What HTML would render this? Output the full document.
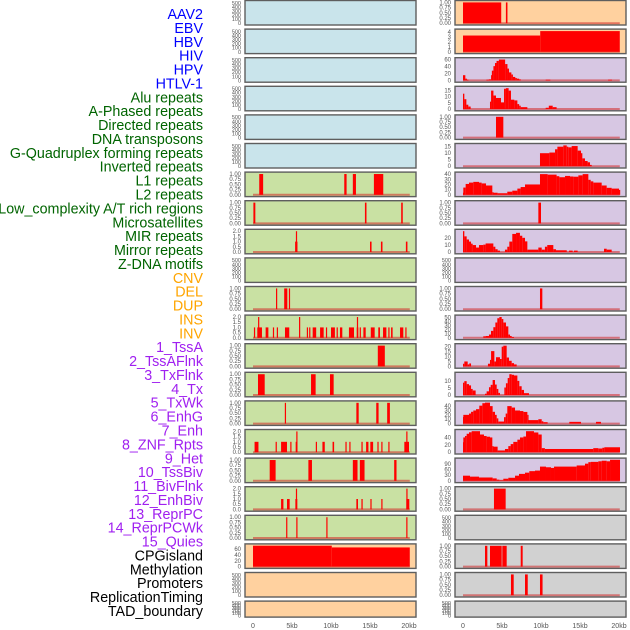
<!DOCTYPE html>
<html><head><meta charset="utf-8"><style>
html,body{margin:0;padding:0;background:#fff;}
svg{display:block;font-family:"Liberation Sans",sans-serif;}
</style></head><body>
<svg id="chart" width="630" height="630" viewBox="0 0 630 630"></svg>
<script>
const trackLabels=["AAV2","EBV","HBV","HIV","HPV","HTLV-1","Alu repeats","A-Phased repeats","Directed repeats","DNA transposons","G-Quadruplex forming repeats","Inverted repeats","L1 repeats","L2 repeats","Low_complexity A/T rich regions","Microsatellites","MIR repeats","Mirror repeats","Z-DNA motifs","CNV","DEL","DUP","INS","INV","1_TssA","2_TssAFlnk","3_TxFlnk","4_Tx","5_TxWk","6_EnhG","7_Enh","8_ZNF_Rpts","9_Het","10_TssBiv","11_BivFlnk","12_EnhBiv","13_ReprPC","14_ReprPCWk","15_Quies","CPGisland","Methylation","Promoters","ReplicationTiming","TAD_boundary"];
const labelColors=["#0000ff","#006400","#ffa500","#a020f0","#000000"];
const labelGroups=[6,13,5,15,5];
const xTicks=[0,5,10,15,20];
const xTickLabels=["0","5kb","10kb","15kb","20kb"];
const ticks500=[0,100,200,300,400,500];
const ticks1=[0,0.25,0.5,0.75,1];
const ticks2=[0,0.5,1,1.5,2];
const aav2R=[[0,4.9,1],[5.5,5.7,1]];
const ebvR=[[0,9.9,3.3],[9.9,20.1,4.2]];
const hivR=[[0,0.3,15],[0.3,0.5,5],[0.5,0.7,2],[3.0,3.3,2],[3.3,3.6,3],[3.6,3.7,15],[3.7,3.9,28],[3.9,4.1,41],[4.1,4.3,50],[4.3,4.6,56],[4.6,5.4,60],[5.4,5.7,47],[5.7,5.9,34],[5.9,6.2,23],[6.2,6.4,17],[6.4,6.7,10],[6.7,6.9,7],[6.9,7.2,5],[7.2,7.4,3],[10.6,11.2,2],[18.6,19.1,2]];
const hpvR=[[0,0.17,12.5],[0.17,0.43,8],[0.43,0.68,3.5],[0.68,0.98,2],[3.46,3.6,6],[3.6,3.9,15],[3.9,4.23,11],[4.23,4.87,9],[4.87,5.26,5.4],[5.26,5.5,16.5],[5.5,5.85,17],[5.85,6.15,15],[6.15,6.58,7.6],[6.58,6.97,7],[6.97,7.2,4],[7.2,7.4,2.7],[7.4,8.25,1.5],[10.6,11.0,1],[11.0,11.5,2.7],[11.5,12.0,1.5]];
const directedR=[[4.23,5.17,1]];
const dnaTransR=[[9.87,11.07,10],[11.07,11.8,10.5],[11.8,12.1,13],[12.1,12.86,15],[12.86,13.3,16],[13.3,13.5,15],[13.5,13.93,14.5],[13.93,14.7,15.5],[14.7,15.13,12],[15.13,15.3,10],[15.3,15.64,6],[15.64,15.98,4],[15.98,16.28,3],[16.28,16.5,1]];
const invertedR=[[0,0.04,4],[0.04,0.34,14],[0.34,0.77,21],[0.77,1.32,23.6],[1.32,2.05,25],[2.05,2.39,23.6],[2.39,2.95,22],[2.95,3.76,18],[3.76,3.89,5],[3.89,4.44,4],[4.44,5.68,3],[5.68,6.32,6],[6.32,6.97,8],[6.97,7.39,12],[7.39,7.95,15],[7.95,9.87,20],[9.87,10.85,40],[10.85,12.0,39],[12.0,12.35,36],[12.35,13.08,34],[13.08,13.72,36.5],[13.72,14.15,35.4],[14.15,14.79,35],[14.79,15.34,37.6],[15.34,16.07,40],[16.07,16.37,29],[16.37,16.71,26],[16.71,17.78,23.6],[17.78,18.42,18],[18.42,19.06,13.5],[19.06,20.0,12],[20.0,20.1,9.5]];
const l1L=[[0.8,1.3,1],[11.7,12.0,1],[12.8,13.2,1],[15.5,16.7,1]];
const lowCompL=[[0.05,0.3,1],[14.35,14.55,1],[19.0,19.2,1]];
const lowCompR=[[9.66,10.0,1]];
const msatL=[[5.4,5.7,1],[5.5,5.65,2],[15.0,15.2,1],[16.4,16.6,1],[19.6,19.8,1]];
const mirR=[[0,0.17,30],[0.17,0.47,22.5],[0.47,0.77,18],[0.77,1.03,15],[1.03,1.24,12],[1.24,1.67,10],[1.67,2.05,6.4],[2.05,2.6,10],[2.6,2.9,10.6],[2.9,3.89,12.3],[3.89,4.15,7.6],[4.15,4.44,4],[4.44,4.74,2],[5.38,5.68,3.4],[5.68,5.94,7.6],[5.94,6.32,15],[6.32,6.8,26],[6.8,7.3,27.6],[7.3,7.6,23.4],[7.6,7.95,20.4],[7.95,8.25,15.3],[8.25,9.66,3.4],[9.66,10.09,6.4],[10.09,10.5,3.4],[10.5,10.8,7.6],[10.8,11.58,10],[11.58,11.92,4],[11.92,13.3,2.5],[13.6,14.06,2],[14.23,14.7,2],[18.08,18.42,4.7],[18.42,19.06,3.4]];
const cnvL=[[2.95,3.1,1],[4.0,4.4,1],[4.6,4.75,1]];
const cnvR=[[9.87,10.17,1]];
const delL=[[0.12,0.22,1],[0.55,1.15,1],[0.65,0.75,2],[1.62,1.97,1],[2.55,2.65,1],[3.05,3.15,1],[4.1,4.65,1],[5.9,6.0,2],[6.9,7.0,1],[7.2,7.3,1],[7.65,8.1,1],[8.6,9.06,1],[9.35,9.45,1],[10.0,10.5,1],[10.72,10.82,1],[11.15,11.45,1],[12.3,12.95,1],[13.3,13.5,1],[13.32,13.42,2],[13.68,13.76,1],[14.15,14.45,1],[15.1,15.6,1],[16.06,16.28,1],[16.67,17.1,1],[17.35,17.45,1],[17.7,17.9,1],[18.85,19.27,1],[19.53,19.63,1]];
const delR=[[2.6,2.9,3.7],[2.9,3.33,4.4],[3.33,3.59,8],[3.59,3.89,17],[3.89,4.15,26],[4.15,4.4,37.5],[4.4,4.66,48],[4.66,4.96,51],[4.96,5.17,46],[5.17,5.51,37.5],[5.51,5.81,28],[5.81,6.03,8],[6.03,6.24,4.4],[6.24,6.54,2]];
const tssaL=[[16.0,16.9,1]];
const tssaR=[[0,0.17,2.7],[0.17,0.6,5],[0.6,0.8,2],[0.8,1.03,3],[3.2,3.46,2.7],[3.46,3.6,6.6],[3.6,4.02,15.5],[4.02,4.23,5],[4.23,4.74,9.3],[4.74,4.96,7.5],[4.96,5.17,20],[5.17,5.6,21],[5.6,5.9,9],[5.9,6.24,5.7],[6.24,6.54,3.3],[6.54,6.88,2]];
const tssafL=[[0.64,1.5,1],[7.44,8.03,1],[9.87,10.34,1]];
const tssafR=[[0,0.17,8.7],[0.17,0.47,9.8],[0.47,0.77,7.7],[0.77,1.03,6.8],[1.03,1.24,4.3],[1.24,1.62,3.2],[2.82,3.03,0.9],[3.03,3.33,2.6],[3.33,3.55,5.5],[3.55,3.8,7.2],[3.8,4.1,10.6],[4.1,4.32,7.4],[4.32,4.53,4.3],[4.53,4.74,1.5],[5.3,5.5,5.3],[5.5,5.73,8.3],[5.73,5.94,12],[5.94,6.24,14.7],[6.24,6.54,14.3],[6.54,6.97,13.8],[6.97,7.22,10],[7.22,7.52,6.2],[7.52,7.82,3.6],[7.82,8.46,1.3]];
const txflnkL=[[4.08,4.23,1],[13.25,13.55,1],[15.8,16.1,1],[17.2,17.55,1]];
const txflnkR=[[0,0.04,15],[0.04,0.77,20],[0.77,1.03,23],[1.03,1.32,27],[1.32,1.67,30],[1.67,2.09,33],[2.09,2.48,41],[2.48,2.82,46.7],[2.82,3.46,48],[3.46,3.8,40],[3.8,4.1,27],[4.1,4.32,20],[4.32,4.53,12],[4.53,5.26,4.7],[5.26,5.47,14.7],[5.47,5.68,23],[5.68,6.24,40],[6.24,6.67,36.7],[6.67,7.31,30],[7.31,7.74,28.7],[7.74,8.25,26.7],[8.25,8.38,20],[8.38,9.66,8],[9.66,10.09,10],[10.09,10.3,5.3],[10.3,10.85,3.3],[13.63,15.13,4],[17.05,17.69,4]];
const txL=[[0.2,0.7,1],[2.9,3.0,1],[3.6,4.36,1],[4.78,4.88,1],[5.47,5.68,1],[5.55,5.65,2],[8.05,8.15,1],[8.9,9.2,1],[10.2,10.4,1],[11.85,11.95,1],[12.35,12.45,1],[13.9,14.06,1],[14.5,14.8,1],[15.04,15.4,1],[15.95,16.05,1],[16.45,16.55,1],[17.35,17.45,1],[19.4,20.0,1],[19.65,19.75,2]];
const txR=[[0,0.04,27],[0.04,0.26,40],[0.26,0.47,44],[0.47,0.77,50],[0.77,1.11,54],[1.11,2.18,57],[2.18,2.69,48],[2.69,3.03,44],[3.03,3.46,42],[3.46,3.76,40],[3.76,3.89,16.5],[3.89,4.44,15],[4.44,5.38,4.7],[5.38,5.81,8.7],[5.81,6.11,16.5],[6.11,6.45,22],[6.45,6.97,28],[6.97,7.31,34],[7.31,7.74,40],[7.74,8.08,42.5],[8.08,9.1,57],[9.1,9.66,53.5],[9.66,10.09,48],[10.09,10.5,11],[10.5,16.7,8.7],[16.7,17.35,11],[17.35,17.86,10],[17.86,18.12,12],[18.12,20.13,13.4]];
const txwkL=[[2.14,2.9,1],[7.1,7.56,1],[12.8,13.4,1],[13.7,14.3,1],[18.1,18.4,1]];
const txwkR=[[0,0.9,27],[0.9,2.05,22],[2.05,3.8,17.5],[3.8,4.32,12.7],[4.32,4.66,6],[4.66,5.17,3],[5.17,5.81,11],[5.81,6.67,16],[6.67,7.18,27],[7.18,7.95,36.5],[7.95,8.5,43],[8.5,9.23,51],[9.23,9.87,54],[9.87,10.64,75],[10.64,11.28,71.5],[11.28,11.67,68],[11.67,14.57,75],[14.57,15.64,81],[15.64,16.07,90.5],[16.07,16.37,98.4],[16.37,17.35,100],[17.35,17.78,103],[17.78,18.42,106],[18.42,18.85,103],[18.85,20.13,111]];
const enhgL=[[3.6,3.9,1],[4.36,4.7,1],[5.43,5.68,1],[5.5,5.62,2],[13.25,13.46,1],[13.9,14.06,1],[15.05,15.15,1],[16.45,16.55,1],[19.66,20.04,1],[19.66,19.78,2]];
const enhgR=[[3.97,5.47,1]];
const enhL=[[4.25,4.35,1],[5.55,5.65,1],[9.4,9.5,1],[19.65,19.75,1]];
const cpgL=[[0,10.1,72],[10.1,20.1,66]];
const cpgR=[[2.82,3.12,1],[3.46,4.96,1],[5.04,5.6,1],[7.4,7.65,1]];
const methR=[[6.15,6.5,1],[7.95,8.3,1],[9.87,10.2,1]];

const BLUE="#c9e4eb",GREEN="#c9e1a3",LAV="#d7c7e3",PEACH="#ffd19f",GREY="#d1d1d1";
const rows=[
 [BLUE,null,520,ticks500,PEACH,aav2R,1.02,ticks1],
 [BLUE,null,520,ticks500,PEACH,ebvR,4.3,[0,1,2,3,4]],
 [BLUE,null,520,ticks500,LAV,hivR,61,[0,20,40,60]],
 [BLUE,null,520,ticks500,LAV,hpvR,17.3,[0,5,10,15]],
 [BLUE,null,520,ticks500,LAV,directedR,1.02,ticks1],
 [BLUE,null,520,ticks500,LAV,dnaTransR,16.3,[0,5,10,15]],
 [GREEN,l1L,1.02,ticks1,LAV,invertedR,41,[0,10,20,30,40]],
 [GREEN,lowCompL,1.02,ticks1,LAV,lowCompR,1.02,ticks1],
 [GREEN,msatL,2.04,ticks2,LAV,mirR,30.5,[0,10,20]],
 [GREEN,null,520,ticks500,LAV,null,520,ticks500],
 [GREEN,cnvL,1.02,ticks1,LAV,cnvR,1.02,ticks1],
 [GREEN,delL,2.04,ticks2,LAV,delR,52,[0,10,20,30,40,50]],
 [GREEN,tssaL,1.02,ticks1,LAV,tssaR,21.5,[0,5,10,15,20]],
 [GREEN,tssafL,1.02,ticks1,LAV,tssafR,15,[0,5,10]],
 [GREEN,txflnkL,1.02,ticks1,LAV,txflnkR,48.5,[0,10,20,30,40]],
 [GREEN,txL,2.04,ticks2,LAV,txR,57.5,[0,20,40]],
 [GREEN,txwkL,1.02,ticks1,LAV,txwkR,112,[0,30,60,90]],
 [GREEN,enhgL,2.04,ticks2,GREY,enhgR,1.02,ticks1],
 [GREEN,enhL,1.02,ticks1,GREY,null,520,ticks500],
 [PEACH,cpgL,73,[0,20,40,60],GREY,cpgR,1.02,ticks1],
 [PEACH,null,520,ticks500,GREY,methR,1.02,ticks1],
 [PEACH,null,520,ticks500,GREY,null,520,ticks500]
];

const NS="http://www.w3.org/2000/svg";
const svg=document.getElementById('chart');
function mk(tag,attrs,parent){const e=document.createElementNS(NS,tag);for(const k in attrs)e.setAttribute(k,attrs[k]);(parent||svg).appendChild(e);return e;}

let gi=0,cnt=0;
trackLabels.forEach((t,i)=>{
  while(cnt>=labelGroups[gi]){gi++;cnt=0;}
  cnt++;
  const y=14+i*(597/43);
  const el=mk('text',{x:203,y:y+5,'text-anchor':'end','font-size':'14.3',fill:labelColors[gi]});
  el.textContent=t;
  
  
});

const colX=[245,455];
const panelW=171;
function xScale(col,kb){return colX[col]+8+kb*7.8;}
function fmt(v,ticks){
  if(ticks===ticks1)return v.toFixed(2);
  if(ticks===ticks2)return v.toFixed(1);
  return String(v);
}
rows.forEach((r,i)=>{
  const top=0.5+i*28.6;
  const h= i===21?16:24.5;
  for(let c=0;c<2;c++){
    const bg=r[c*4],data=r[c*4+1],ymax=r[c*4+2],ticks=r[c*4+3];
    const g=mk('g',{});
    
    
    const x0=colX[c];
    mk('rect',{x:x0,y:top,width:panelW,height:h,fill:bg},g);
    const yb=top+h-1.8, yt=top+1.5;
    const yS=v=>yb-(v/ymax)*(yb-yt);
    if(data){
      mk('line',{x1:xScale(c,0),x2:xScale(c,20.1),y1:yb,y2:yb,stroke:'rgba(210,40,40,0.55)','stroke-width':2},g);
      data.forEach(s=>{
        const x1=xScale(c,s[0]),x2=xScale(c,s[1]);
        const bar=mk('rect',{x:x1,y:yS(s[2]),width:Math.max(1.2,x2-x1),height:yb-yS(s[2]),fill:'#ff0000'},g);
        
        
      });
    }
    mk('rect',{x:x0,y:top,width:panelW,height:h,fill:'none',stroke:'#5e5e5e','stroke-width':1.4},g);
    ticks.forEach(v=>{
      const tl=mk('text',{x:x0-4,y:yS(v)+2,'text-anchor':'end','font-size':ticks===ticks500?'5.5':'6',fill:'#555'},g);
      tl.textContent=fmt(v,ticks);
      
      
    });
  }
});
for(let c=0;c<2;c++){
  xTicks.forEach((v,j)=>{
    const t=mk('text',{x:xScale(c,v),y:628,'text-anchor':'middle','font-size':'7',fill:'#555'});
    t.textContent=xTickLabels[j];
    
    
  });
}
</script>
</body></html>
